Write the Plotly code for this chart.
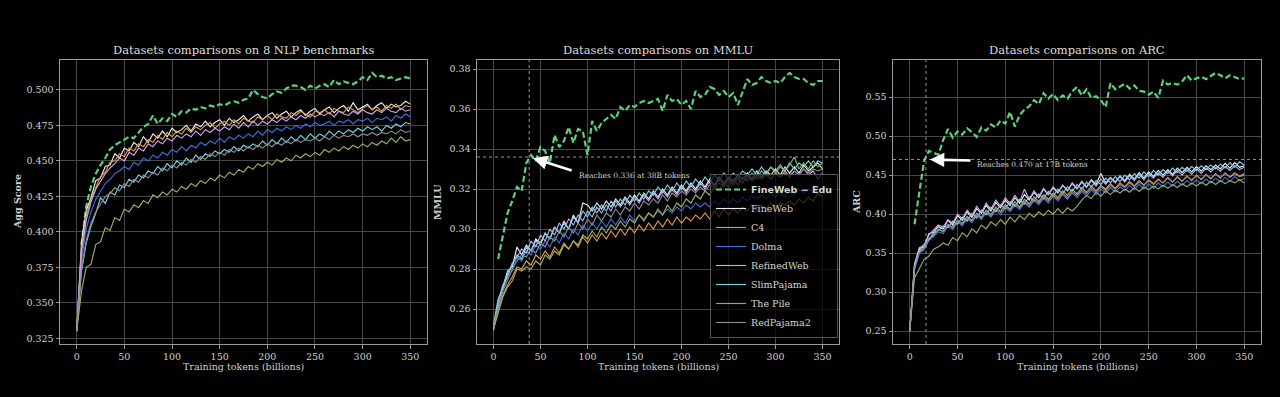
import plotly.graph_objects as go

# ---------------- data ----------------
tokens = [0, 5, 10, 15, 20, 25, 30, 35, 40, 45,
          50, 55, 60, 65, 70, 75, 80, 85, 90, 95,
          100, 105, 110, 115, 120, 125, 130, 135, 140, 145,
          150, 155, 160, 165, 170, 175, 180, 185, 190, 195,
          200, 205, 210, 215, 220, 225, 230, 235, 240, 245,
          250, 255, 260, 265, 270, 275, 280, 285, 290, 295,
          300, 305, 310, 315, 320, 325, 330, 335, 340, 345,
          350]
tokens_edu = tokens[1:]

series_names = ["FineWeb", "C4", "Dolma", "RefinedWeb", "SlimPajama", "The Pile", "RedPajama2"]
edu_name = "FineWeb − Edu"

panel_titles = ["Datasets comparisons on 8 NLP benchmarks",
                "Datasets comparisons on MMLU",
                "Datasets comparisons on ARC"]
y_titles = ["Agg Score", "MMLU", "ARC"]
x_title = "Training tokens (billions)"

# ---- Panel 1: aggregate score ----
agg_edu = [.391, .418, .432, .441, .447, .452, .458, .461, .463,
           .465, .467, .466, .470, .474, .476, .482, .476, .480, .478,
           .483, .481, .485, .484, .487, .486, .488, .487, .489, .488,
           .490, .489, .491, .492, .491, .493, .494, .500, .497, .495,
           .494, .497, .499, .498, .501, .503, .503, .502, .500, .503,
           .501, .503, .504, .502, .507, .504, .506, .505, .504, .506,
           .509, .507, .512, .509, .510, .508, .509, .507, .508, .509,
           .508]
agg_fineweb = [.330, .392, .415, .424, .436, .438, .446, .447, .455, .452,
               .459, .457, .463, .460, .467, .463, .469, .466, .471, .467,
               .473, .470, .472, .475, .471, .476, .474, .478, .474, .477,
               .479, .475, .480, .477, .479, .482, .478, .481, .483, .479,
               .482, .484, .480, .483, .485, .481, .484, .486, .482, .485,
               .487, .483, .486, .488, .484, .487, .489, .485, .491, .486,
               .488, .490, .486, .489, .491, .487, .490, .488, .489, .492,
               .490]
agg_c4 = [.330, .388, .411, .423, .431, .439, .442, .449, .450, .455,
          .453, .459, .457, .462, .460, .465, .463, .468, .465, .470,
          .467, .471, .469, .473, .470, .474, .472, .475, .477, .473,
          .476, .478, .475, .479, .476, .480, .478, .477, .481, .479,
          .482, .479, .483, .481, .480, .484, .482, .485, .483, .481,
          .485, .484, .486, .483, .487, .485, .484, .488, .486, .484,
          .487, .489, .486, .488, .485, .489, .487, .490, .486, .489,
          .488]
agg_dolma = [.330, .380, .402, .414, .423, .429, .434, .437, .441, .443,
             .446, .444, .449, .447, .452, .450, .454, .452, .456, .454,
             .458, .456, .460, .457, .461, .459, .463, .461, .464, .462,
             .466, .463, .467, .465, .468, .466, .469, .467, .471, .468,
             .472, .470, .473, .471, .474, .472, .475, .473, .476, .474,
             .477, .475, .476, .478, .475, .478, .477, .479, .476, .479,
             .478, .480, .477, .480, .479, .481, .478, .482, .480, .483,
             .481]
agg_refinedweb = [.330, .385, .408, .421, .430, .436, .441, .445, .448, .452,
                  .450, .456, .454, .459, .457, .462, .460, .464, .462, .466,
                  .464, .468, .466, .469, .467, .471, .468, .472, .470, .473,
                  .471, .474, .472, .476, .473, .477, .474, .478, .475, .478,
                  .476, .479, .477, .480, .478, .481, .479, .482, .480, .483,
                  .481, .483, .482, .484, .481, .485, .483, .482, .485, .483,
                  .486, .484, .483, .486, .484, .487, .485, .484, .487, .485,
                  .486]
agg_slimpajama = [.330, .372, .392, .404, .413, .424, .420, .428, .426, .433,
                  .431, .437, .435, .440, .438, .443, .441, .446, .443, .448,
                  .445, .450, .447, .452, .449, .454, .451, .455, .453, .457,
                  .455, .458, .456, .460, .457, .461, .459, .462, .460, .464,
                  .461, .465, .462, .466, .463, .467, .464, .468, .465, .469,
                  .466, .469, .467, .471, .468, .471, .469, .472, .470, .473,
                  .471, .474, .472, .474, .471, .475, .473, .476, .474, .477,
                  .476]
agg_thepile = [.330, .358, .375, .377, .391, .393, .403, .401, .410, .408,
               .416, .414, .419, .417, .422, .420, .426, .424, .428, .426,
               .430, .428, .432, .430, .434, .432, .436, .434, .438, .436,
               .440, .438, .442, .440, .444, .442, .446, .444, .448, .446,
               .449, .447, .451, .449, .452, .450, .454, .452, .455, .453,
               .456, .454, .458, .456, .459, .457, .460, .458, .461, .459,
               .462, .460, .463, .461, .464, .462, .466, .463, .467, .464,
               .465]
agg_redpajama2 = [.330, .374, .394, .406, .414, .420, .425, .427, .431, .429,
                  .434, .432, .437, .435, .440, .438, .442, .440, .445, .443,
                  .447, .445, .449, .447, .451, .449, .453, .451, .455, .453,
                  .456, .454, .458, .456, .459, .457, .460, .458, .461, .459,
                  .462, .460, .463, .461, .464, .462, .465, .463, .465, .464,
                  .466, .464, .467, .465, .468, .466, .468, .467, .469, .467,
                  .469, .468, .470, .468, .470, .469, .471, .469, .472, .470,
                  .471]

# ---- Panel 2: MMLU ----
mmlu_edu = [.285, .296, .308, .314, .321, .319, .333, .337, .334,
            .341, .339, .333, .347, .341, .344, .351, .343, .350, .349,
            .337, .354, .349, .353, .355, .357, .355, .361, .359, .362,
            .361, .363, .364, .363, .364, .365, .359, .367, .364, .365,
            .362, .364, .360, .369, .366, .367, .371, .370, .367, .369,
            .366, .368, .362, .369, .375, .372, .373, .376, .374, .373,
            .374, .373, .376, .378, .376, .375, .375, .373, .372, .374,
            .374]
mmlu_fineweb = [.250, .262, .271, .279, .281, .291, .287, .292, .289, .295,
                .293, .298, .295, .301, .298, .304, .300, .307, .303, .313,
                .312, .309, .313, .310, .314, .311, .315, .312, .316, .313,
                .317, .314, .318, .315, .319, .316, .320, .317, .321, .318,
                .322, .319, .323, .320, .324, .321, .325, .322, .326, .323,
                .326, .324, .327, .325, .328, .325, .329, .326, .329, .327,
                .330, .327, .331, .328, .331, .328, .332, .329, .331, .333,
                .330]
mmlu_c4 = [.249, .260, .267, .272, .276, .281, .280, .284, .282, .287,
           .285, .289, .286, .291, .288, .293, .290, .294, .291, .296,
           .293, .297, .294, .298, .295, .299, .296, .300, .297, .301,
           .298, .302, .299, .303, .300, .304, .301, .305, .302, .306,
           .303, .306, .304, .307, .305, .308, .305, .309, .306, .310,
           .307, .310, .308, .311, .309, .312, .309, .312, .310, .313,
           .311, .313, .312, .314, .312, .315, .313, .316, .314, .318,
           .316]
mmlu_dolma = [.251, .263, .270, .277, .279, .286, .284, .289, .287, .292,
              .290, .294, .291, .296, .293, .298, .295, .300, .297, .302,
              .299, .303, .300, .304, .301, .305, .302, .306, .303, .307,
              .304, .307, .305, .308, .306, .309, .307, .310, .308, .311,
              .309, .312, .310, .313, .311, .313, .311, .314, .312, .315,
              .313, .315, .313, .316, .314, .317, .315, .317, .315, .318,
              .316, .318, .316, .319, .317, .320, .318, .320, .318, .321,
              .320]
mmlu_refinedweb = [.250, .264, .272, .276, .283, .286, .290, .288, .294, .291,
                   .297, .294, .300, .297, .303, .300, .305, .302, .307, .304,
                   .309, .306, .311, .308, .312, .309, .314, .311, .315, .312,
                   .316, .313, .317, .314, .318, .315, .319, .316, .320, .317,
                   .321, .318, .322, .319, .323, .320, .324, .321, .325, .322,
                   .325, .323, .326, .323, .327, .324, .327, .325, .328, .325,
                   .328, .326, .329, .326, .329, .327, .330, .327, .329, .325,
                   .328]
mmlu_slimpajama = [.252, .265, .270, .278, .282, .287, .285, .291, .289, .294,
                   .292, .298, .295, .301, .298, .303, .300, .306, .303, .309,
                   .306, .311, .308, .312, .309, .314, .311, .315, .312, .317,
                   .314, .318, .315, .319, .317, .321, .318, .322, .319, .323,
                   .320, .324, .321, .325, .322, .326, .323, .327, .324, .328,
                   .325, .328, .326, .329, .327, .330, .327, .331, .328, .331,
                   .329, .332, .329, .333, .330, .333, .331, .334, .331, .334,
                   .333]
mmlu_thepile = [.250, .258, .266, .271, .274, .280, .279, .281, .280, .284,
                .282, .287, .285, .289, .287, .292, .290, .294, .292, .297,
                .295, .299, .296, .301, .298, .302, .300, .304, .301, .305,
                .303, .307, .304, .308, .306, .310, .307, .312, .309, .313,
                .311, .315, .313, .317, .315, .319, .317, .321, .319, .323,
                .321, .325, .322, .326, .324, .328, .325, .329, .327, .331,
                .328, .331, .329, .332, .336, .330, .333, .330, .334, .331,
                .333]
mmlu_redpajama2 = [.251, .261, .269, .275, .280, .284, .287, .286, .290, .288,
                   .293, .291, .296, .294, .299, .296, .301, .298, .303, .300,
                   .305, .302, .307, .304, .308, .306, .310, .307, .311, .309,
                   .313, .310, .314, .312, .315, .313, .317, .314, .318, .316,
                   .319, .317, .320, .318, .321, .319, .322, .320, .323, .321,
                   .324, .322, .325, .323, .326, .324, .326, .325, .327, .325,
                   .328, .326, .328, .327, .329, .327, .330, .328, .330, .329,
                   .330]

# ---- Panel 3: ARC ----
arc_edu = [.387, .428, .468, .481, .479, .476, .495, .509, .498,
           .506, .502, .510, .505, .499, .511, .507, .515, .511, .520,
           .516, .531, .512, .527, .534, .538, .546, .541, .555, .548,
           .554, .546, .552, .548, .557, .563, .552, .560, .549, .551,
           .546, .537, .568, .560, .563, .567, .561, .565, .558, .557,
           .553, .557, .549, .571, .566, .568, .566, .570, .578, .571,
           .574, .576, .573, .577, .581, .578, .574, .578, .576, .573,
           .574]
arc_fineweb = [.250, .336, .356, .358, .375, .377, .384, .381, .392, .386,
               .398, .392, .403, .396, .407, .401, .411, .404, .415, .408,
               .418, .411, .421, .414, .425, .418, .428, .421, .432, .425,
               .434, .427, .437, .430, .440, .433, .442, .435, .444, .438,
               .452, .440, .447, .441, .449, .443, .451, .445, .453, .446,
               .454, .448, .456, .450, .457, .451, .459, .453, .460, .454,
               .461, .455, .462, .457, .463, .458, .465, .459, .466, .460,
               .462]
arc_c4 = [.250, .330, .352, .357, .368, .373, .380, .378, .386, .383,
          .392, .388, .397, .392, .401, .396, .405, .399, .409, .403,
          .412, .406, .416, .409, .419, .413, .422, .416, .425, .419,
          .427, .421, .430, .424, .432, .426, .434, .428, .436, .430,
          .437, .432, .439, .433, .440, .435, .442, .436, .443, .437,
          .444, .439, .445, .440, .447, .441, .448, .442, .449, .443,
          .450, .444, .451, .445, .452, .446, .453, .447, .452, .448,
          .450]
arc_dolma = [.250, .328, .350, .354, .366, .371, .377, .375, .384, .380,
             .390, .385, .394, .389, .398, .393, .402, .396, .405, .399,
             .408, .403, .411, .406, .414, .409, .417, .412, .420, .414,
             .423, .417, .425, .419, .427, .421, .429, .423, .431, .425,
             .432, .427, .434, .428, .435, .430, .437, .431, .438, .432,
             .439, .433, .440, .435, .441, .436, .442, .437, .443, .438,
             .444, .439, .445, .440, .446, .441, .447, .442, .448, .443,
             .446]
arc_refinedweb = [.250, .334, .357, .360, .373, .380, .386, .383, .393, .388,
                  .400, .394, .405, .398, .410, .402, .414, .406, .418, .410,
                  .421, .413, .424, .416, .432, .419, .430, .422, .433, .425,
                  .435, .428, .437, .430, .439, .432, .441, .434, .443, .436,
                  .445, .438, .446, .440, .448, .441, .449, .443, .451, .444,
                  .452, .446, .453, .447, .455, .449, .456, .450, .457, .451,
                  .458, .452, .459, .454, .460, .455, .461, .456, .462, .457,
                  .460]
arc_slimpajama = [.250, .332, .353, .361, .367, .376, .379, .385, .383, .391,
                  .387, .396, .391, .401, .395, .405, .399, .409, .403, .412,
                  .407, .416, .410, .419, .413, .422, .417, .426, .420, .429,
                  .423, .432, .426, .435, .429, .438, .432, .441, .435, .443,
                  .438, .446, .440, .448, .442, .450, .444, .452, .446, .454,
                  .448, .456, .450, .457, .452, .459, .453, .460, .455, .461,
                  .456, .462, .457, .463, .458, .464, .459, .466, .460, .467,
                  .463]
arc_thepile = [.250, .318, .330, .342, .346, .355, .358, .363, .360, .370,
               .366, .376, .371, .381, .376, .386, .381, .390, .385, .393,
               .387, .396, .390, .398, .393, .401, .396, .403, .398, .405,
               .400, .407, .401, .408, .404, .410, .418, .424, .420, .428,
               .423, .430, .425, .431, .427, .432, .428, .434, .429, .435,
               .431, .436, .432, .437, .433, .438, .434, .439, .435, .440,
               .436, .441, .437, .442, .438, .443, .439, .443, .440, .444,
               .440]
arc_redpajama2 = [.250, .331, .351, .356, .369, .372, .381, .377, .387, .382,
                  .392, .387, .396, .391, .400, .395, .404, .398, .407, .402,
                  .410, .405, .413, .408, .416, .411, .419, .414, .422, .417,
                  .424, .419, .427, .421, .429, .424, .431, .426, .433, .428,
                  .435, .430, .437, .432, .438, .434, .440, .435, .441, .437,
                  .443, .438, .444, .440, .446, .441, .447, .442, .448, .444,
                  .449, .445, .450, .446, .451, .447, .452, .448, .453, .449,
                  .452]

# annotation values
mmlu_mark_tokens, mmlu_mark_value = 38, 0.336
arc_mark_tokens, arc_mark_value = 17, 0.470

# ---------------- styling ----------------
W, H = 1280, 397
BG = "#000000"
TXT = "#cfcfcf"
SERIF = "DejaVu Serif"
edu_color = "#5fcf7c"
series_colors = {
    "FineWeb": "#ececec",
    "C4": "#e0994a",
    "Dolma": "#3d6fdc",
    "RefinedWeb": "#c9a3f2",
    "SlimPajama": "#72d6e8",
    "The Pile": "#9cae5e",
    "RedPajama2": "#8c8c8c",
}

panels = [
    dict(edu=agg_edu, others=[agg_fineweb, agg_c4, agg_dolma, agg_refinedweb,
                              agg_slimpajama, agg_thepile, agg_redpajama2],
         xpx=(60, 427), yr=[0.3209, 0.5211], dtick=0.025, fmt=".3f"),
    dict(edu=mmlu_edu, others=[mmlu_fineweb, mmlu_c4, mmlu_dolma, mmlu_refinedweb,
                               mmlu_slimpajama, mmlu_thepile, mmlu_redpajama2],
         xpx=(477, 839), yr=[0.2425, 0.3845], dtick=0.02, fmt=".2f"),
    dict(edu=arc_edu, others=[arc_fineweb, arc_c4, arc_dolma, arc_refinedweb,
                              arc_slimpajama, arc_thepile, arc_redpajama2],
         xpx=(893, 1261), yr=[0.2335, 0.5975], dtick=0.05, fmt=".2f"),
]

top_px, bot_px = 60, 344
ydom = [(H - bot_px) / H, (H - top_px) / H]

fig = go.Figure()
annotations = []
shapes = []

for i, p in enumerate(panels):
    k = "" if i == 0 else str(i + 1)
    xa, ya = "x" + k, "y" + k
    show = (i == 1)
    fig.add_trace(go.Scatter(
        x=tokens_edu, y=p["edu"], mode="lines", xaxis=xa, yaxis=ya,
        name="<span style=\"font-family:'DejaVu Sans'\"><b>" + edu_name + "</b></span>",
        line=dict(color=edu_color, width=2.2, dash="6px,3px"),
        showlegend=show, legendrank=1))
    for j, (nm, vals) in enumerate(zip(series_names, p["others"])):
        fig.add_trace(go.Scatter(
            x=tokens, y=vals, mode="lines", xaxis=xa, yaxis=ya, name=nm,
            line=dict(color=series_colors[nm], width=1.15),
            showlegend=show, legendrank=2 + j))

    axis_common = dict(
        showline=True, linecolor="#9a9a9a", linewidth=1, mirror=True,
        showgrid=True, gridcolor="#474747", gridwidth=0.8, zeroline=False,
        ticks="outside", ticklen=3.5, tickcolor="#9a9a9a", tickwidth=0.8,
        tickfont=dict(family=SERIF, size=9.5, color=TXT),
    )
    fig.layout["xaxis" + k] = dict(
        domain=[p["xpx"][0] / W, p["xpx"][1] / W], anchor=ya,
        range=[-17.5, 367.5], tick0=0, dtick=50, **axis_common)
    fig.layout["yaxis" + k] = dict(
        domain=ydom, anchor=xa, range=p["yr"], tick0=0, dtick=p["dtick"],
        tickformat=p["fmt"], **axis_common)

    cx = (p["xpx"][0] + p["xpx"][1]) / 2 / W
    annotations.append(dict(text=panel_titles[i], xref="paper", yref="paper",
                            x=cx, y=(H - 50) / H, showarrow=False,
                            xanchor="center", yanchor="middle",
                            font=dict(family=SERIF, size=11.5, color="#dcdcdc")))
    annotations.append(dict(text=x_title, xref="paper", yref="paper",
                            x=cx, y=(H - 366) / H, showarrow=False,
                            xanchor="center", yanchor="middle",
                            font=dict(family=SERIF, size=9.5, color=TXT)))

ylab_x = [18, 438, 857]
for i, t in enumerate(y_titles):
    annotations.append(dict(text="<b>" + t + "</b>", xref="paper", yref="paper",
                            x=ylab_x[i] / W, y=(H - 202) / H, showarrow=False,
                            textangle=-90, xanchor="center", yanchor="middle",
                            font=dict(family=SERIF, size=9.5, color=TXT)))

# reference lines + arrows
for (xa, ya, tx, ty, ax, ay, txt_x, txt_y) in [
    ("x2", "y2", mmlu_mark_tokens, mmlu_mark_value, 44, 14, 89, 0.3270),
    ("x3", "y3", arc_mark_tokens, arc_mark_value, 46, 1, 68, 0.4632),
]:
    shapes.append(dict(type="line", xref=xa, yref=ya + " domain", x0=tx, x1=tx, y0=0, y1=1,
                       line=dict(color="#bdbdbd", width=0.8, dash="dot")))
    shapes.append(dict(type="line", xref=xa + " domain", yref=ya, x0=0, x1=1, y0=ty, y1=ty,
                       line=dict(color="#bdbdbd", width=0.8, dash="dot")))
    annotations.append(dict(x=tx, y=ty, xref=xa, yref=ya, text="", showarrow=True,
                            ax=ax, ay=ay, axref="pixel", ayref="pixel",
                            arrowhead=2, arrowsize=1.1, arrowwidth=2.6,
                            arrowcolor="#ffffff", standoff=4))
    label = "Reaches {:.3f} at {}B tokens".format(ty, tx)
    annotations.append(dict(x=txt_x, y=txt_y, xref=xa, yref=ya, text=label,
                            showarrow=False, xanchor="left", yanchor="middle",
                            font=dict(family=SERIF, size=7.5, color=TXT)))

fig.update_layout(
    width=W, height=H,
    paper_bgcolor=BG, plot_bgcolor=BG,
    margin=dict(l=0, r=0, t=0, b=0),
    annotations=annotations, shapes=shapes,
    showlegend=True,
    legend=dict(x=838 / W, y=(H - 338) / H, xanchor="right", yanchor="bottom",
                bgcolor="rgba(0,0,0,0.72)", bordercolor="#555555", borderwidth=1,
                font=dict(family=SERIF, size=9.5, color="#d4d4d4"),
                itemwidth=30, tracegroupgap=0, traceorder="normal"),
)

fig.write_html(
    "out.html",
    config={"displayModeBar": False},
    post_script="document.body.style.margin='0';document.body.style.background='#000';"
                "document.documentElement.style.background='#000';",
)
